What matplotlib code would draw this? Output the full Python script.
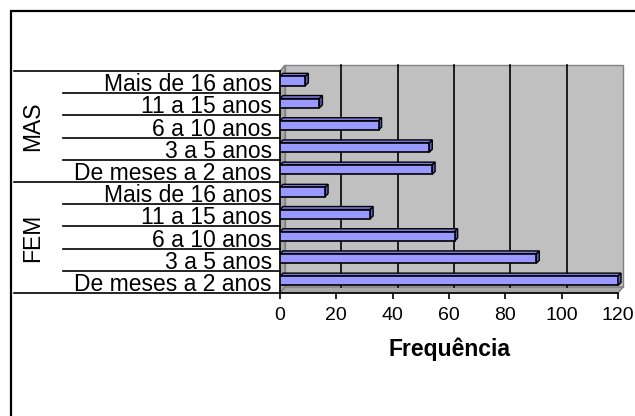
import matplotlib
matplotlib.use("Agg")
import matplotlib.pyplot as plt
from matplotlib.patches import Polygon, Rectangle

plt.rcParams['font.family'] = ['Liberation Sans', 'DejaVu Sans']

# age bands, bottom (FEM) to top (MAS)
faixas = ["De meses a 2 anos", "3 a 5 anos", "6 a 10 anos",
          "11 a 15 anos", "Mais de 16 anos"]
grupos = ["FEM", "MAS"]
freq_fem = [120, 91, 62, 32, 16]
freq_mas = [54, 53, 35, 14, 9]
xticks = [0, 20, 40, 60, 80, 100, 120]

labels = faixas + faixas
valores = freq_fem + freq_mas
n = len(valores)

W, H = 635, 416
fig = plt.figure(figsize=(W / 100, H / 100), dpi=100)

# plot box in pixels
left_px, right_px, top_px, bottom_px = 280, 618, 71, 293
ax = fig.add_axes([left_px / W, 1 - bottom_px / H,
                   (right_px - left_px) / W, (bottom_px - top_px) / H])
ax.set_xlim(0, 120)
ax.set_ylim(-0.5, n - 0.5)
ax.set_facecolor("none")

px_x = 120 / (right_px - left_px)
px_y = n / (bottom_px - top_px)

# walls of the 3d box
wx, wy = 5 * px_x, 6 * px_y
ax.add_patch(Rectangle((wx, -0.5 + wy), 120, n, facecolor="#c0c0c0",
                       edgecolor="#808080", lw=1, zorder=0, clip_on=False))
ax.add_patch(Polygon([(0, -0.5), (0, n - 0.5), (wx, n - 0.5 + wy), (wx, -0.5 + wy)],
                     facecolor="#a8a8a8", edgecolor="#808080", lw=1, zorder=0.5,
                     clip_on=False))
ax.add_patch(Polygon([(0, -0.5), (120, -0.5), (120 + wx, -0.5 + wy), (wx, -0.5 + wy)],
                     facecolor="#a8a8a8", edgecolor="#808080", lw=1, zorder=0.5,
                     clip_on=False))
for t in xticks[1:-1]:
    ax.plot([t + wx, t + wx], [-0.5 + wy, n - 0.5 + wy], color="black", lw=1.2,
            zorder=0.6, clip_on=False)

# bars with top and end faces
bh = 0.42
dx, dy = 3 * px_x, 3 * px_y
ys = [i + 0.05 for i in range(n)]
ax.barh(ys, valores, height=bh, color="#9999ff", edgecolor="black", lw=1.2, zorder=3)
for y, v in zip(ys, valores):
    yt, yb = y + bh / 2, y - bh / 2
    ax.add_patch(Polygon([(0, yt), (v, yt), (v + dx, yt + dy), (dx, yt + dy)],
                         facecolor="#7a7ae0", edgecolor="black", lw=1, zorder=2.9,
                         clip_on=False))
    ax.add_patch(Polygon([(v, yb), (v, yt), (v + dx, yt + dy), (v + dx, yb + dy)],
                         facecolor="#5c5cc0", edgecolor="black", lw=1, zorder=2.9,
                         clip_on=False))

# axes
for s in ["top", "right"]:
    ax.spines[s].set_visible(False)
ax.spines["left"].set_color("black")
ax.spines["bottom"].set_color("black")
ax.spines["left"].set_linewidth(1.2)
ax.spines["bottom"].set_linewidth(1.2)
ax.set_xticks(xticks)
ax.set_xticklabels([str(t) for t in xticks], fontsize=14)
ax.tick_params(axis="x", length=4, width=1.2, pad=6)
ax.set_yticks(range(n))
ax.set_yticklabels(labels, fontsize=16.5)
ax.tick_params(axis="y", length=0, pad=6)
ax.set_xlabel("Frequência", fontsize=16.5, fontweight="bold", labelpad=10)

# category separators in the label area
ytr = ax.get_yaxis_transform()
inner_x = (63 - left_px) / (right_px - left_px)
outer_x = (14 - left_px) / (right_px - left_px)
for b in range(n + 1):
    yb = b - 0.5
    x0 = outer_x if b in (0, len(faixas), n) else inner_x
    ax.plot([x0, 0], [yb, yb], color="black", lw=1.2, transform=ytr, clip_on=False)

# group labels
gx = (33 - left_px) / (right_px - left_px)
for g, grupo in enumerate(grupos):
    yc = g * len(faixas) + (len(faixas) - 1) / 2
    ax.text(gx, yc, grupo, rotation=90, ha="center", va="center", fontsize=16.5,
            transform=ytr)

# chart border
fig.patches.append(Rectangle((11 / W, -0.2), 1.5, 1 - 11 / H + 0.2, fill=False,
                             edgecolor="black", lw=1.6, transform=fig.transFigure))

fig.savefig("out.png", dpi=100)
